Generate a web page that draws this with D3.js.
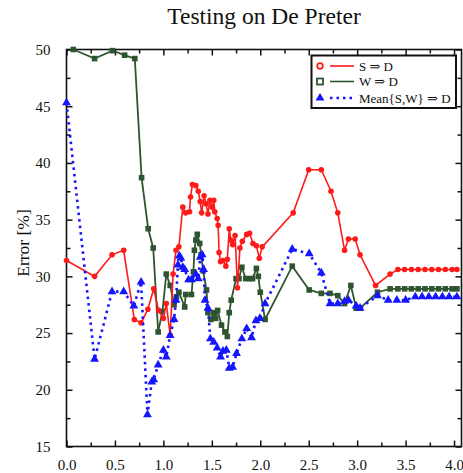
<!DOCTYPE html>
<html>
<head>
<meta charset="utf-8">
<script src="https://cdn.jsdelivr.net/npm/d3@7"></script>
<style>
  body { margin: 0; background: #fff; }
  svg { display: block; font-family: "Liberation Serif", "DejaVu Serif", serif; }
</style>
</head>
<body>
<svg id="chart" width="463" height="473"></svg>
<script>
// S => D
var sX = [0.0, 0.29, 0.47, 0.59, 0.70, 0.77, 0.84, 0.90, 0.95, 1.00, 1.03, 1.07, 1.10, 1.13, 1.16, 1.20, 1.23, 1.27, 1.28, 1.30,
          1.335, 1.36, 1.38, 1.395, 1.42, 1.44, 1.46, 1.48, 1.505, 1.52, 1.53, 1.555, 1.565, 1.575, 1.59, 1.615, 1.645, 1.66, 1.68, 1.695,
          1.715, 1.74, 1.765, 1.79, 1.815, 1.86, 1.89, 1.925, 1.96, 1.99, 2.02, 2.34, 2.50, 2.63, 2.73, 2.80, 2.87, 2.91, 2.98, 3.03,
          3.19, 3.34, 3.42, 3.49, 3.56, 3.63, 3.70, 3.77, 3.84, 3.91, 3.98, 4.03];
var sY = [31.4, 30.0, 31.9, 32.3, 26.2, 25.9, 27.1, 28.9, 27.0, 26.3, 27.6, 24.8, 30.2, 32.3, 32.6, 36.1, 35.6, 35.7, 37.0, 38.1,
          38.0, 37.5, 36.6, 35.6, 37.1, 36.4, 35.5, 36.7, 36.1, 36.7, 35.7, 35.1, 34.5, 32.1, 31.3, 31.4, 30.9, 31.5, 34.2, 33.2,
          32.8, 33.6, 29.0, 32.5, 33.1, 33.7, 33.8, 32.9, 32.7, 31.6, 32.6, 35.6, 39.4, 39.4, 37.5, 35.6, 32.3, 33.3, 33.3, 31.9,
          29.2, 30.2, 30.6, 30.6, 30.6, 30.6, 30.6, 30.6, 30.6, 30.6, 30.6, 30.6];

// W => D
var wX = [0.07, 0.29, 0.475, 0.60, 0.705, 0.775, 0.843, 0.895, 0.946, 0.99, 1.03, 1.07, 1.11, 1.135, 1.16, 1.22, 1.23, 1.29, 1.31, 1.32,
          1.335, 1.35, 1.375, 1.39, 1.41, 1.445, 1.46, 1.49, 1.52, 1.54, 1.56, 1.60, 1.635, 1.66, 1.68, 1.70, 1.75, 1.78, 1.81, 1.85,
          1.89, 1.92, 1.96, 1.98, 2.00, 2.05, 2.33, 2.505, 2.63, 2.72, 2.80, 2.87, 2.935, 2.99, 3.03, 3.21, 3.34, 3.42, 3.49, 3.56,
          3.63, 3.70, 3.77, 3.84, 3.91, 3.98, 4.03];
var wY = [50.0, 49.2, 49.9, 49.5, 49.2, 38.7, 34.2, 32.5, 25.1, 26.9, 30.2, 29.2, 27.5, 28.2, 28.6, 27.3, 28.4, 28.4, 30.4, 32.3,
          33.2, 33.7, 32.9, 31.9, 30.5, 28.8, 26.8, 26.2, 26.8, 26.3, 27.0, 25.7, 25.1, 24.7, 26.8, 27.9, 29.8, 29.8, 30.8, 29.8,
          29.8, 29.8, 30.7, 30.0, 28.6, 26.2, 30.9, 28.8, 28.5, 28.5, 28.3, 27.6, 29.2, 27.2, 27.2, 28.6, 28.9, 28.9, 28.9, 28.9,
          28.9, 28.9, 28.9, 28.9, 28.9, 28.9, 28.9];

// Mean{S,W} => D
var mX = [0.0, 0.29, 0.47, 0.59, 0.695, 0.77, 0.836, 0.88, 0.90, 0.946, 1.00, 1.03, 1.07, 1.11, 1.13, 1.15, 1.165, 1.18, 1.20, 1.22,
          1.26, 1.29, 1.335, 1.36, 1.38, 1.40, 1.415, 1.43, 1.46, 1.485, 1.52, 1.555, 1.59, 1.615, 1.65, 1.68, 1.715, 1.755, 1.81, 1.86,
          1.91, 1.955, 1.995, 2.05, 2.33, 2.505, 2.63, 2.72, 2.80, 2.87, 2.91, 2.99, 3.03, 3.21, 3.32, 3.41, 3.50, 3.60, 3.67, 3.74,
          3.81, 3.88, 3.95, 4.03];
var mY = [45.3, 22.7, 28.65, 28.65, 27.4, 29.5, 17.8, 20.7, 20.9, 22.2, 23.5, 22.9, 24.8, 26.2, 27.9, 31.0, 31.8, 31.6, 30.8, 30.6,
          29.7, 29.7, 30.2, 29.8, 31.7, 31.9, 30.6, 27.9, 27.2, 24.5, 24.2, 23.7, 22.9, 23.4, 23.5, 21.9, 22.0, 23.2, 24.5, 25.4,
          24.6, 26.1, 26.3, 27.6, 32.4, 32.0, 30.3, 27.6, 27.6, 27.8, 27.9, 27.4, 27.2, 28.3, 27.9, 27.9, 27.9, 28.2, 28.2, 28.2,
          28.2, 28.2, 28.2, 28.2];

var xMajor = [0, 0.5, 1, 1.5, 2, 2.5, 3, 3.5, 4];
var xMinor = [0.25, 0.75, 1.25, 1.75, 2.25, 2.75, 3.25, 3.75];
var yMajor = [15, 20, 25, 30, 35, 40, 45, 50];
var yMinor = [17.5, 22.5, 27.5, 32.5, 37.5, 42.5, 47.5];

var seriesNames = ["S \u21D2 D", "W \u21D2 D", "Mean{S,W} \u21D2 D"];

var plotLeft = 66.5, plotTop = 49.5, plotRight = 461.5, plotBottom = 446.5;

var svg = d3.select("#chart");

var x = d3.scaleLinear().domain([0, 4.077]).range([plotLeft, plotRight]);
var y = d3.scaleLinear().domain([15, 50]).range([plotBottom, plotTop]);

// title
svg.append("text")
    .attr("x", 264)
    .attr("y", 24)
    .attr("text-anchor", "middle")
    .attr("font-size", "23.5px")
    .attr("fill", "#111")
    .text("Testing on De Preter");

// y label
svg.append("text")
    .attr("transform", "translate(29,243) rotate(-90)")
    .attr("text-anchor", "middle")
    .attr("font-size", "17.5px")
    .attr("fill", "#111")
    .text("Error [%]");

//Axes, ticks point inward on all four sides
function styleAxis(g) {
    g.select(".domain").remove();
    g.selectAll("line").attr("stroke", "#111").attr("stroke-width", 1.5);
    g.selectAll("text").attr("fill", "#111").attr("font-size", "15px")
        .attr("font-family", "Liberation Serif, DejaVu Serif, serif");
}

svg.append("g").attr("transform", "translate(0," + plotBottom + ")")
    .call(d3.axisBottom(x).tickValues(xMajor).tickFormat(d3.format(".1f")).tickSizeInner(-6).tickSizeOuter(0).tickPadding(13))
    .call(styleAxis);
svg.append("g").attr("transform", "translate(0," + plotBottom + ")")
    .call(d3.axisBottom(x).tickValues(xMinor).tickFormat("").tickSizeInner(-4).tickSizeOuter(0))
    .call(styleAxis);
svg.append("g").attr("transform", "translate(0," + plotTop + ")")
    .call(d3.axisTop(x).tickValues(xMajor).tickFormat("").tickSizeInner(-6).tickSizeOuter(0))
    .call(styleAxis);
svg.append("g").attr("transform", "translate(0," + plotTop + ")")
    .call(d3.axisTop(x).tickValues(xMinor).tickFormat("").tickSizeInner(-4).tickSizeOuter(0))
    .call(styleAxis);

svg.append("g").attr("transform", "translate(" + plotLeft + ",0)")
    .call(d3.axisLeft(y).tickValues(yMajor).tickFormat(d3.format("d")).tickSizeInner(-6).tickSizeOuter(0).tickPadding(16))
    .call(styleAxis);
svg.append("g").attr("transform", "translate(" + plotLeft + ",0)")
    .call(d3.axisLeft(y).tickValues(yMinor).tickFormat("").tickSizeInner(-4).tickSizeOuter(0))
    .call(styleAxis);
svg.append("g").attr("transform", "translate(" + plotRight + ",0)")
    .call(d3.axisRight(y).tickValues(yMajor).tickFormat("").tickSizeInner(-6).tickSizeOuter(0))
    .call(styleAxis);
svg.append("g").attr("transform", "translate(" + plotRight + ",0)")
    .call(d3.axisRight(y).tickValues(yMinor).tickFormat("").tickSizeInner(-4).tickSizeOuter(0))
    .call(styleAxis);

// plot frame
svg.append("rect")
    .attr("x", plotLeft).attr("y", plotTop)
    .attr("width", plotRight - plotLeft).attr("height", plotBottom - plotTop)
    .attr("fill", "none").attr("stroke", "#111").attr("stroke-width", 1.6);

var line = d3.line().x(function (d) { return x(d[0]); }).y(function (d) { return y(d[1]); });

var sData = d3.zip(sX, sY);
var wData = d3.zip(wX, wY);
var mData = d3.zip(mX, mY);

var red = "#ff1a1a", green = "#2f5530", blue = "#1515ff";

// green series
svg.append("path").datum(wData).attr("d", line)
    .attr("fill", "none").attr("stroke", green).attr("stroke-width", 1.8);
svg.append("g").selectAll("rect").data(wData).enter().append("rect")
    .attr("x", function (d) { return x(d[0]) - 2.8; })
    .attr("y", function (d) { return y(d[1]) - 2.8; })
    .attr("width", 5.6).attr("height", 5.6)
    .attr("fill", green);

// red series
svg.append("path").datum(sData).attr("d", line)
    .attr("fill", "none").attr("stroke", red).attr("stroke-width", 1.6);
svg.append("g").selectAll("circle").data(sData).enter().append("circle")
    .attr("cx", function (d) { return x(d[0]); })
    .attr("cy", function (d) { return y(d[1]); })
    .attr("r", 2.8)
    .attr("fill", red);

// blue dotted series
var tri = d3.symbol().type(d3.symbolTriangle).size(34);
svg.append("path").datum(mData).attr("d", line)
    .attr("fill", "none").attr("stroke", blue).attr("stroke-width", 2.6)
    .attr("stroke-dasharray", "2.5,4");
svg.append("g").selectAll("path").data(mData).enter().append("path")
    .attr("d", tri)
    .attr("transform", function (d) { return "translate(" + x(d[0]) + "," + y(d[1]) + ")"; })
    .attr("fill", blue);

//Legend box
var legend = svg.append("g");
legend.append("rect")
    .attr("x", 311.5).attr("y", 55.5)
    .attr("width", 144.5).attr("height", 52.5)
    .attr("fill", "#fff").attr("stroke", "#111").attr("stroke-width", 2);

var rowY = [66, 81.5, 98];
seriesNames.forEach(function (name, i) {
    var yy = rowY[i];
    var col = [red, green, blue][i];
    legend.append("line")
        .attr("x1", 330).attr("x2", 354).attr("y1", yy).attr("y2", yy)
        .attr("stroke", col)
        .attr("stroke-width", i === 2 ? 2.6 : 1.6)
        .attr("stroke-dasharray", i === 2 ? "2.5,4" : null);
    if (i === 0) {
        legend.append("circle").attr("cx", 320).attr("cy", yy).attr("r", 2.8)
            .attr("fill", "#fff").attr("stroke", red).attr("stroke-width", 1.8);
    } else if (i === 1) {
        legend.append("rect").attr("x", 317).attr("y", yy - 3).attr("width", 6).attr("height", 6)
            .attr("fill", "#fff").attr("stroke", green).attr("stroke-width", 1.8);
    } else {
        legend.append("path").attr("d", tri)
            .attr("transform", "translate(320," + yy + ")").attr("fill", blue);
    }
    legend.append("text")
        .attr("x", 359).attr("y", yy + 4.5)
        .attr("font-size", "13px")
        .attr("fill", "#111")
        .text(name);
});
</script>
</body>
</html>
